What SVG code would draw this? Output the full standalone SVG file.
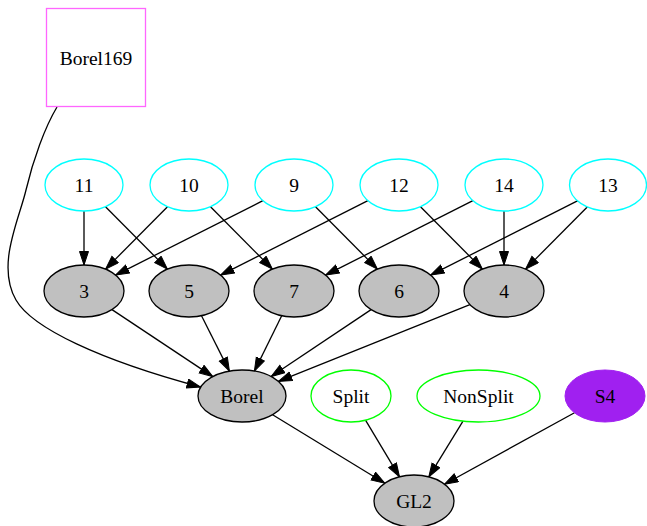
<svg xmlns="http://www.w3.org/2000/svg" width="647" height="526" viewBox="0 0 647 526">
<defs>
<marker id="ah" markerUnits="userSpaceOnUse" markerWidth="16" markerHeight="12" refX="14" refY="5" orient="auto">
<path d="M0.5,0.5 L14,5 L0.5,9.5 z" fill="#000" stroke="#000" stroke-width="1"/>
</marker>
<style>
text{font-family:"Liberation Serif","Times New Roman",serif;font-size:19.5px;fill:#000;text-anchor:middle;dominant-baseline:central}
.c{fill:#fff;stroke:#00ffff;stroke-width:1.3}
.g{fill:#c0c0c0;stroke:#000;stroke-width:1.3}
.gr{fill:#fff;stroke:#00ff00;stroke-width:1.3}
.e{fill:none;stroke:#000;stroke-width:1.3;marker-end:url(#ah)}
</style>
</defs>
<rect width="647" height="526" fill="#fff"/>
<g id="connectors">
<path class="e" d="M57,107 C45,127 33,160 26,190 C19,220 -4,265 16,300 C32,328 100,360 200.5,387"/>
<line class="e" x1="84" y1="211" x2="84" y2="265"/>
<line class="e" x1="105.5" y1="206.7" x2="167.4" y2="269.1"/>
<line class="e" x1="167.5" y1="206.7" x2="105.6" y2="269.1"/>
<line class="e" x1="210.5" y1="206.7" x2="272.4" y2="269.1"/>
<line class="e" x1="262.9" y1="200.7" x2="115.6" y2="275.1"/>
<line class="e" x1="315.5" y1="206.7" x2="377.4" y2="269.1"/>
<line class="e" x1="367.9" y1="200.7" x2="220.6" y2="275.1"/>
<line class="e" x1="420.5" y1="206.7" x2="482.4" y2="269.1"/>
<line class="e" x1="472.9" y1="200.7" x2="325.6" y2="275.1"/>
<line class="e" x1="504" y1="211" x2="504" y2="265"/>
<line class="e" x1="577.9" y1="200.7" x2="430.6" y2="275.1"/>
<line class="e" x1="587.5" y1="206.7" x2="525.6" y2="269.1"/>
<line class="e" x1="112" y1="309.6" x2="212.8" y2="376.6"/>
<line class="e" x1="201.5" y1="315.7" x2="229.4" y2="371.1"/>
<line class="e" x1="281.7" y1="315.7" x2="254.4" y2="371.1"/>
<line class="e" x1="371.1" y1="309.6" x2="271.1" y2="376.5"/>
<line class="e" x1="469.9" y1="304.7" x2="278.4" y2="381.4"/>
<line class="e" x1="272.6" y1="414.7" x2="384.8" y2="483.2"/>
<line class="e" x1="365.5" y1="420.2" x2="399.5" y2="476.8"/>
<line class="e" x1="463" y1="421.2" x2="428.8" y2="476.9"/>
<line class="e" x1="574.5" y1="412.8" x2="444.5" y2="484.2"/>
</g>
<g id="Borel169"><rect x="46.5" y="8.5" width="99" height="98" fill="#fff" stroke="#ff66ff" stroke-width="1.3"/><text x="96" y="58">Borel169</text></g>
<g id="n11"><ellipse class="c" cx="84" cy="185" rx="39" ry="26"/><text x="84" y="185">11</text></g>
<g id="n10"><ellipse class="c" cx="189" cy="185" rx="39" ry="26"/><text x="189" y="185">10</text></g>
<g id="n9"><ellipse class="c" cx="294" cy="185" rx="39" ry="26"/><text x="294" y="185">9</text></g>
<g id="n12"><ellipse class="c" cx="399" cy="185" rx="39" ry="26"/><text x="399" y="185">12</text></g>
<g id="n14"><ellipse class="c" cx="504" cy="185" rx="39" ry="26"/><text x="504" y="185">14</text></g>
<g id="n13"><ellipse class="c" cx="608" cy="185" rx="38.5" ry="26"/><text x="608" y="185">13</text></g>
<g id="n3"><ellipse class="g" cx="84" cy="291" rx="40" ry="26"/><text x="84" y="291">3</text></g>
<g id="n5"><ellipse class="g" cx="189" cy="291" rx="40" ry="26"/><text x="189" y="291">5</text></g>
<g id="n7"><ellipse class="g" cx="294" cy="291" rx="40" ry="26"/><text x="294" y="291">7</text></g>
<g id="n6"><ellipse class="g" cx="399" cy="291" rx="40" ry="26"/><text x="399" y="291">6</text></g>
<g id="n4"><ellipse class="g" cx="504" cy="291" rx="40" ry="26"/><text x="504" y="291">4</text></g>
<g id="Borel"><ellipse class="g" cx="242" cy="396" rx="44" ry="26"/><text x="242" y="396">Borel</text></g>
<g id="Split"><ellipse class="gr" cx="351" cy="396" rx="40" ry="26"/><text x="351" y="396">Split</text></g>
<g id="NonSplit"><ellipse class="gr" cx="478.5" cy="396" rx="61.5" ry="26"/><text x="478.5" y="396">NonSplit</text></g>
<g id="S4"><ellipse cx="605" cy="396" rx="40" ry="26" fill="#a020f0" stroke="#a020f0"/><text x="605" y="396">S4</text></g>
<g id="GL2"><ellipse class="g" cx="414" cy="501" rx="40" ry="26"/><text x="414" y="501">GL2</text></g>
</svg>
